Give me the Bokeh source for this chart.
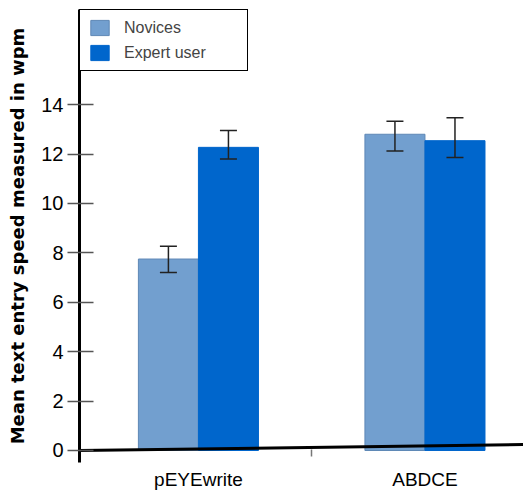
from bokeh.plotting import figure
from bokeh.models import (ColumnDataSource, Whisker, TeeHead, FixedTicker, Legend,
                          LegendItem, Range1d)
from bokeh.embed import file_html
from bokeh.resources import INLINE

categories = ["pEYEwrite", "ABDCE"]
series = ["Novices", "Expert user"]
novices = [7.75, 12.8]
novices_lo = [7.2, 12.12]
novices_hi = [8.27, 13.33]
expert = [12.27, 12.54]
expert_lo = [11.8, 11.86]
expert_hi = [12.95, 13.47]
colors = ["#729fcf", "#0066cc"]
outline = ["#5f88b6", "#0066cc"]
y_ticks = [0, 2, 4, 6, 8, 10, 12, 14]

BAR_W = 0.265
centers = [i + 0.5 for i in range(len(categories))]

xr = Range1d(-0.025, 1.935)
yr = Range1d(-0.486, 17.85)

p = figure(width=523, height=492, x_range=xr, y_range=yr,
           output_backend="svg", toolbar_location=None,
           min_border_top=9, min_border_right=0, min_border_left=79,
           min_border_bottom=29)
p.outline_line_color = None
p.xgrid.visible = False
p.ygrid.visible = False

renderers = []
for k, (vals, lo, hi) in enumerate([(novices, novices_lo, novices_hi),
                                    (expert, expert_lo, expert_hi)]):
    off = (k - 0.5) * BAR_W
    src = ColumnDataSource(dict(x=[c + off for c in centers], top=vals,
                                lower=lo, upper=hi))
    r = p.vbar(x="x", top="top", bottom=0, width=BAR_W, source=src,
               fill_color=colors[k], line_color=outline[k], line_width=1)
    renderers.append(r)
    w = Whisker(base="x", lower="lower", upper="upper", source=src,
                line_color="#222222", line_width=1.5, level="overlay",
                upper_head=TeeHead(size=17, line_color="#222222", line_width=1.5),
                lower_head=TeeHead(size=17, line_color="#222222", line_width=1.5))
    p.add_layout(w)

# slanted baseline (x axis line)
p.segment(x0=[xr.start], y0=[0.0], x1=[xr.end], y1=[0.24],
          line_color="black", line_width=3)

# y axis
ya = p.yaxis[0]
ya.ticker = FixedTicker(ticks=y_ticks)
ya.axis_line_color = "black"
ya.axis_line_width = 3
ya.major_tick_out = 12
ya.major_tick_in = 14
ya.major_tick_line_color = "#555555"
ya.major_tick_line_width = 1.5
ya.minor_tick_line_color = None
ya.major_label_standoff = 4
ya.major_label_text_font = "Liberation Sans"
ya.major_label_text_font_size = "20px"
ya.major_label_text_color = "black"
ya.axis_label = "Mean text entry speed measured in wpm"
ya.axis_label_text_font = "DejaVu Sans"
ya.axis_label_text_font_style = "bold"
ya.axis_label_text_font_size = "18px"
ya.axis_label_text_color = "black"
ya.axis_label_standoff = 10

# x axis
xa = p.xaxis[0]
xa.ticker = FixedTicker(ticks=centers, minor_ticks=[1.0])
xa.major_label_overrides = {c: lab for c, lab in zip(centers, categories)}
xa.axis_line_color = None
xa.major_tick_line_color = None
xa.minor_tick_in = 13
xa.minor_tick_out = -6
xa.minor_tick_line_color = "#777777"
xa.minor_tick_line_width = 1.5
xa.major_label_standoff = 0
xa.major_label_text_font = "Liberation Sans"
xa.major_label_text_font_size = "19px"
xa.major_label_text_color = "black"

legend = Legend(items=[LegendItem(label=s, renderers=[r]) for s, r in zip(series, renderers)],
                location="top_left", margin=0, padding=8, spacing=6,
                glyph_width=23, glyph_height=19, label_height=19, label_width=115,
                label_standoff=13, border_line_color="black", border_line_width=1.5,
                border_line_alpha=1.0,
                label_text_font="Liberation Sans", label_text_font_size="16px",
                background_fill_alpha=1.0)
p.add_layout(legend)

open("out.html", "w").write(file_html(p, INLINE))
